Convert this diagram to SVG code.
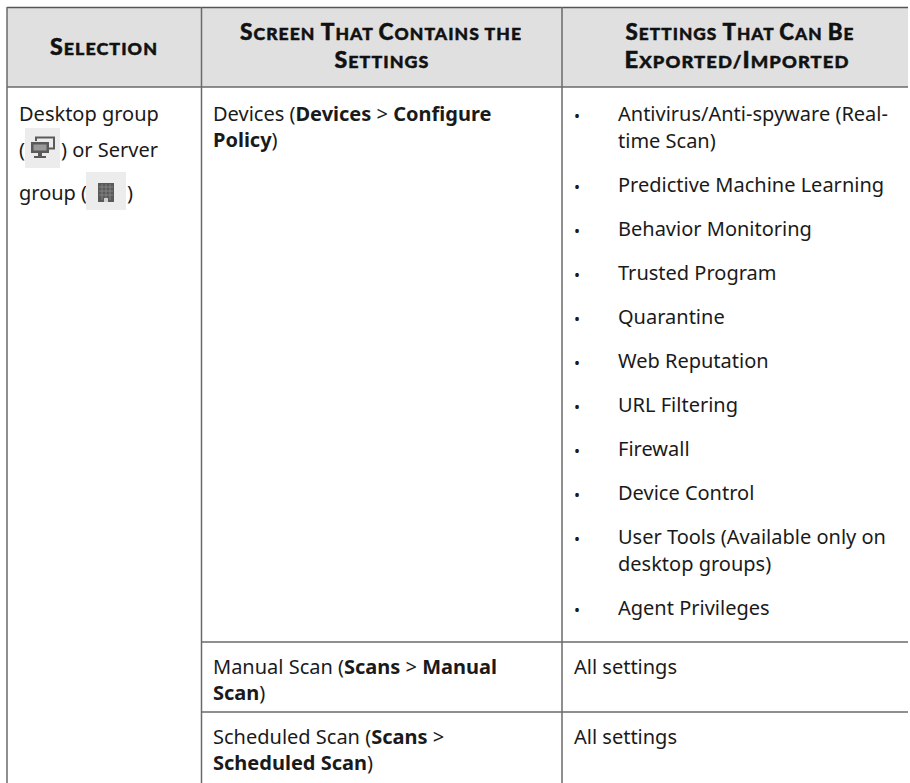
<svg xmlns="http://www.w3.org/2000/svg" width="910" height="783" viewBox="0 0 910 783">
<style>
.h{font-family:Lato,"Noto Sans","DejaVu Sans",sans-serif;font-weight:900;fill:#111;stroke:#111;stroke-width:0.45;letter-spacing:1px;text-anchor:middle}
.h .b{font-size:22px}
.h .s{font-size:17px}
.t{font-family:"Noto Sans","Open Sans","DejaVu Sans",sans-serif;font-size:20px;fill:#1a1a1a}
.t .k{font-weight:700}
.bul{font-family:"Noto Sans","Open Sans","DejaVu Sans",sans-serif;font-size:16px;fill:#1a1a1a}
.ln{stroke:#6a6a6a;stroke-width:1.5;fill:none}
.icobg{fill:#ececec}
.ico{fill:#5a5a5a}
</style>
<rect x="7" y="7" width="901" height="80" fill="#e0e0e0"/>
<g id="grid">
<line class="ln" x1="7" y1="7.5" x2="908" y2="7.5" style="stroke:#555"/>
<line class="ln" x1="7" y1="87" x2="908" y2="87"/>
<line class="ln" x1="201" y1="642" x2="908" y2="642"/>
<line class="ln" x1="201" y1="712" x2="908" y2="712"/>
<line class="ln" x1="7" y1="7" x2="7" y2="783"/>
<line class="ln" x1="201.5" y1="7" x2="201.5" y2="783"/>
<line class="ln" x1="562" y1="7" x2="562" y2="783"/>
</g>
<g id="header">
<text class="h" x="104" y="55" textLength="108" lengthAdjust="spacingAndGlyphs"><tspan class="b">S</tspan><tspan class="s">ELECTION</tspan></text>
<text class="h" x="381" y="40" textLength="282" lengthAdjust="spacingAndGlyphs"><tspan class="b">S</tspan><tspan class="s">CREEN </tspan><tspan class="b">T</tspan><tspan class="s">HAT </tspan><tspan class="b">C</tspan><tspan class="s">ONTAINS THE</tspan></text>
<text class="h" x="382" y="68" textLength="95" lengthAdjust="spacingAndGlyphs"><tspan class="b">S</tspan><tspan class="s">ETTINGS</tspan></text>
<text class="h" x="740" y="40" textLength="229" lengthAdjust="spacingAndGlyphs"><tspan class="b">S</tspan><tspan class="s">ETTINGS </tspan><tspan class="b">T</tspan><tspan class="s">HAT </tspan><tspan class="b">C</tspan><tspan class="s">AN </tspan><tspan class="b">B</tspan><tspan class="s">E</tspan></text>
<text class="h" x="737" y="68" textLength="225" lengthAdjust="spacingAndGlyphs"><tspan class="b">E</tspan><tspan class="s">XPORTED/</tspan><tspan class="b">I</tspan><tspan class="s">MPORTED</tspan></text>
</g>
<g id="selection">
<text class="t" x="19" y="121">Desktop group</text>
<text class="t" x="19" y="157">(</text>
<rect class="icobg" x="25" y="128" width="35" height="40"/>
<g id="desktop-icon">
<rect x="36" y="137.5" width="18" height="11" fill="none" stroke="#5a5a5a" stroke-width="2"/>
<rect x="30" y="141" width="19" height="12" fill="#ececec"/>
<rect class="ico" x="31" y="142" width="18" height="11"/>
<rect x="33.5" y="144.5" width="13" height="6" fill="#9a9a9a"/>
<rect class="ico" x="38" y="153" width="4" height="3"/>
<rect class="ico" x="34" y="156" width="12" height="2"/>
</g>
<text class="t" x="61" y="157">) or Server</text>
<text class="t" x="19" y="200">group (</text>
<rect class="icobg" x="86" y="172" width="40" height="38"/>
<g id="server-icon">
<rect class="ico" x="98" y="183" width="16" height="19"/>
<g stroke="#8a8a8a" stroke-width="0.8">
<line x1="102" y1="184" x2="102" y2="200"/>
<line x1="106" y1="184" x2="106" y2="200"/>
<line x1="110" y1="184" x2="110" y2="200"/>
<line x1="99" y1="187" x2="113" y2="187"/>
<line x1="99" y1="191" x2="113" y2="191"/>
<line x1="99" y1="195" x2="113" y2="195"/>
</g>
<rect x="104" y="198" width="4" height="4" fill="#cfcfcf"/>
</g>
<text class="t" x="127" y="200">)</text>
</g>
<g id="screen-devices">
<text class="t" x="213" y="121">Devices (<tspan class="k">Devices</tspan> &gt; <tspan class="k">Configure</tspan></text>
<text class="t" x="213" y="147"><tspan class="k">Policy</tspan>)</text>
</g>
<g id="settings-devices">
<g class="bul">
<text x="574" y="122">•</text>
<text x="574" y="193">•</text>
<text x="574" y="237">•</text>
<text x="574" y="281">•</text>
<text x="574" y="325">•</text>
<text x="574" y="369">•</text>
<text x="574" y="413">•</text>
<text x="574" y="457">•</text>
<text x="574" y="501">•</text>
<text x="574" y="545">•</text>
<text x="574" y="616">•</text>
</g>
<text class="t" x="618" y="121">Antivirus/Anti-spyware (Real-</text>
<text class="t" x="618" y="148">time Scan)</text>
<text class="t" x="618" y="192">Predictive Machine Learning</text>
<text class="t" x="618" y="236">Behavior Monitoring</text>
<text class="t" x="618" y="280">Trusted Program</text>
<text class="t" x="618" y="324">Quarantine</text>
<text class="t" x="618" y="368">Web Reputation</text>
<text class="t" x="618" y="412">URL Filtering</text>
<text class="t" x="618" y="456">Firewall</text>
<text class="t" x="618" y="500">Device Control</text>
<text class="t" x="618" y="544">User Tools (Available only on</text>
<text class="t" x="618" y="571">desktop groups)</text>
<text class="t" x="618" y="615">Agent Privileges</text>
</g>
<g id="row-manual">
<text class="t" x="213" y="674">Manual Scan (<tspan class="k">Scans</tspan> &gt; <tspan class="k">Manual</tspan></text>
<text class="t" x="213" y="700"><tspan class="k">Scan</tspan>)</text>
<text class="t" x="574" y="674">All settings</text>
</g>
<g id="row-scheduled">
<text class="t" x="213" y="744">Scheduled Scan (<tspan class="k">Scans</tspan> &gt;</text>
<text class="t" x="213" y="770"><tspan class="k">Scheduled Scan</tspan>)</text>
<text class="t" x="574" y="744">All settings</text>
</g>
</svg>
